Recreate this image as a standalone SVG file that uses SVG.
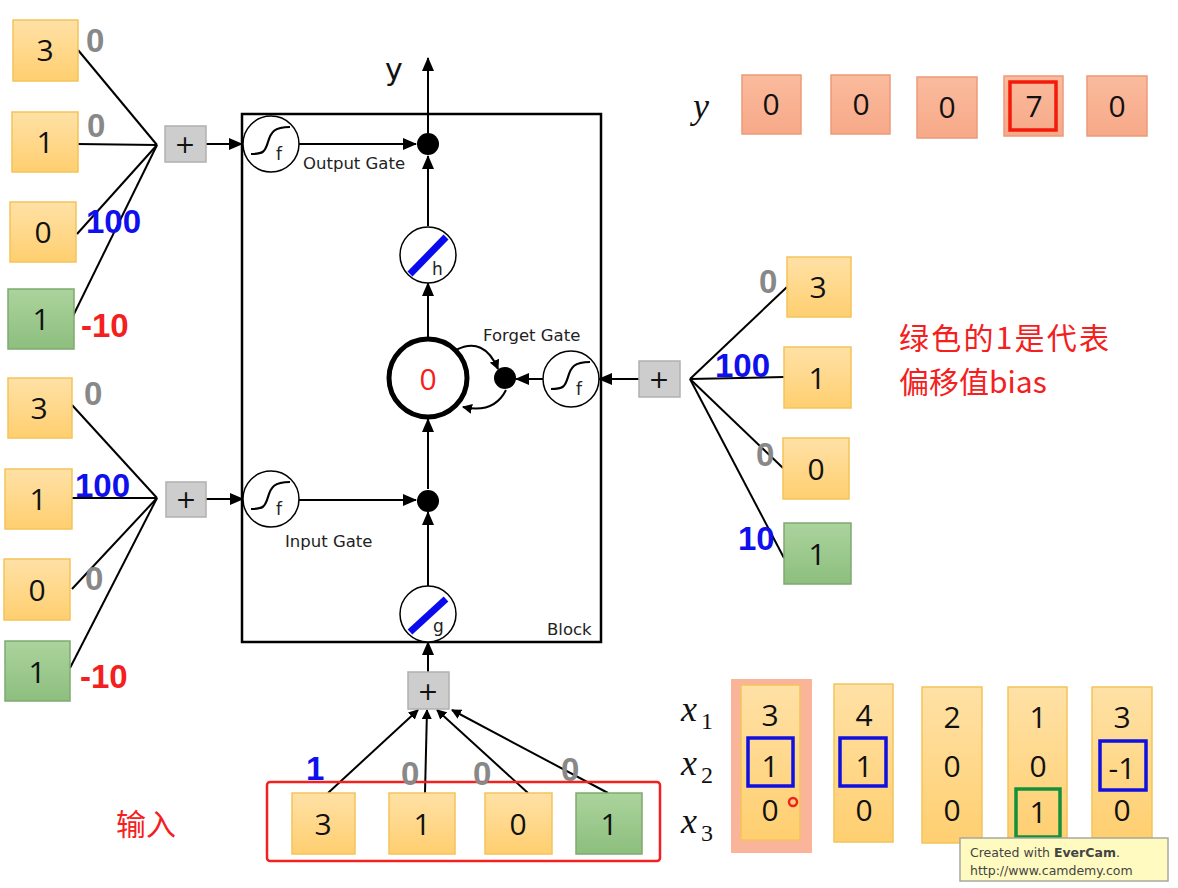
<svg xmlns="http://www.w3.org/2000/svg" width="1178" height="888" viewBox="0 0 1178 888">
<defs>
<marker id="ah" markerUnits="userSpaceOnUse" markerWidth="14" markerHeight="12" viewBox="0 0 14 12" refX="13" refY="6" orient="auto">
<path d="M0,0 L14,6 L0,12 z" fill="#000"/>
</marker>
<marker id="ahs" markerUnits="userSpaceOnUse" markerWidth="10" markerHeight="10" viewBox="0 0 10 10" refX="9" refY="5" orient="auto">
<path d="M0,0 L10,5 L0,10 z" fill="#000"/>
</marker>
<linearGradient id="gy" x1="0" y1="0" x2="0" y2="1">
<stop offset="0" stop-color="#FFE1A6"/><stop offset="1" stop-color="#FFCF70"/>
</linearGradient>
<linearGradient id="gg" x1="0" y1="0" x2="0" y2="1">
<stop offset="0" stop-color="#ABD39C"/><stop offset="1" stop-color="#8DBF7E"/>
</linearGradient>
<linearGradient id="gs" x1="0" y1="0" x2="0" y2="1">
<stop offset="0" stop-color="#FABB9D"/><stop offset="1" stop-color="#F7A988"/>
</linearGradient>
<g id="sig">
<circle r="28" fill="#fff" stroke="#000" stroke-width="1.5"/>
<path d="M-20,10 C-8,10 -6,8 -3,-2 C0,-12 3,-17 19,-17" fill="none" stroke="#000" stroke-width="2.2"/>
<text x="5" y="16" class="sub">f</text>
</g>
</defs>
<style>
.yb{fill:url(#gy);stroke:#F3C35A;stroke-width:1.5}
.gb{fill:url(#gg);stroke:#7FA971;stroke-width:1.5}
.sb{fill:url(#gs);stroke:#EC9B78;stroke-width:1.5}
.pb{fill:#CDCDCD;stroke:#B0B0B0;stroke-width:1.5}
.num{font-family:"Open Sans","Liberation Sans",sans-serif;font-size:30px;fill:#111;text-anchor:middle}
.plus{font-family:"DejaVu Sans",sans-serif;font-size:25px;fill:#111;text-anchor:middle}
.w{font-family:"Liberation Sans",Arial,sans-serif;font-size:33px;font-weight:bold}
.gray{fill:#888888}
.blue{fill:#1010EE}
.red{fill:#F42020}
.lbl{font-family:"DejaVu Sans",sans-serif;font-size:16.5px;fill:#222}
.sub{font-family:"DejaVu Sans",sans-serif;font-size:17px;fill:#222}
.ln{stroke:#000;stroke-width:2;fill:none}
.math{font-family:"Liberation Serif",serif;font-style:italic;font-size:36px;fill:#111}
.msub{font-family:"Liberation Serif",serif;font-size:24px;fill:#111}
.cjk{font-family:"Noto Sans CJK SC",sans-serif;font-size:30px;fill:#F42020}
</style>
<rect width="1178" height="888" fill="#fff"/>

<g id="block">
<rect x="242" y="114" width="359" height="528" fill="none" stroke="#000" stroke-width="2.5"/>
<text x="547" y="635" class="lbl">Block</text>
</g>

<g id="connectors">
<line x1="78" y1="50" x2="157" y2="145" class="ln"/>
<line x1="77" y1="144" x2="157" y2="145" class="ln"/>
<line x1="77" y1="234" x2="157" y2="145" class="ln"/>
<line x1="73" y1="316" x2="157" y2="145" class="ln"/>
<line x1="206" y1="144" x2="242" y2="144" class="ln" marker-end="url(#ah)"/>
<line x1="299" y1="144" x2="416" y2="144" class="ln" marker-end="url(#ah)"/>
<line x1="428" y1="133" x2="428" y2="58" class="ln" marker-end="url(#ah)"/>
<line x1="428" y1="226" x2="428" y2="156" class="ln" marker-end="url(#ah)"/>
<line x1="428" y1="337" x2="428" y2="283" class="ln" marker-end="url(#ah)"/>
<line x1="72" y1="405" x2="157" y2="498" class="ln"/>
<line x1="72" y1="498" x2="157" y2="498" class="ln"/>
<line x1="72" y1="589" x2="157" y2="498" class="ln"/>
<line x1="70" y1="668" x2="157" y2="498" class="ln"/>
<line x1="206" y1="499" x2="243" y2="499" class="ln" marker-end="url(#ah)"/>
<line x1="299" y1="500" x2="416" y2="500" class="ln" marker-end="url(#ah)"/>
<line x1="428" y1="489" x2="428" y2="419" class="ln" marker-end="url(#ah)"/>
<line x1="428" y1="586" x2="428" y2="512" class="ln" marker-end="url(#ah)"/>
<line x1="428" y1="672" x2="428" y2="642" class="ln" marker-end="url(#ah)"/>
<line x1="787" y1="287" x2="690" y2="379" class="ln"/>
<line x1="784" y1="377" x2="690" y2="379" class="ln"/>
<line x1="783" y1="468" x2="690" y2="379" class="ln"/>
<line x1="784" y1="558" x2="690" y2="379" class="ln"/>
<line x1="639" y1="379" x2="599" y2="379" class="ln" marker-end="url(#ah)"/>
<line x1="543" y1="379" x2="516" y2="379" class="ln" marker-end="url(#ah)"/>
<path d="M456,350 Q484,336 498,369" class="ln" marker-end="url(#ahs)"/>
<path d="M506,390 Q494,414 463,407" class="ln" marker-end="url(#ahs)"/>
<line x1="328" y1="793" x2="418" y2="710" class="ln" marker-end="url(#ahs)"/>
<line x1="425" y1="793" x2="427" y2="710" class="ln" marker-end="url(#ahs)"/>
<line x1="528" y1="793" x2="437" y2="710" class="ln" marker-end="url(#ahs)"/>
<line x1="608" y1="793" x2="452" y2="710" class="ln" marker-end="url(#ahs)"/>
</g>

<g id="output-gate-inputs">
<rect x="13" y="20" width="65" height="61" class="yb"/><text x="45" y="61" class="num">3</text>
<rect x="12" y="112" width="66" height="60" class="yb"/><text x="45" y="153" class="num">1</text>
<rect x="10" y="202" width="66" height="60" class="yb"/><text x="43" y="243" class="num">0</text>
<rect x="8" y="289" width="66" height="60" class="gb"/><text x="41" y="330" class="num">1</text>
<text x="86" y="52" class="w gray">0</text>
<text x="87" y="137" class="w gray">0</text>
<text x="86" y="233" class="w blue">100</text>
<text x="81" y="337" class="w red">-10</text>
</g>
<g id="output-gate-sum"><rect x="165" y="126" width="41" height="36" class="pb"/><text x="185" y="153" class="plus">+</text></g>
<g id="output-gate"><use href="#sig" x="271" y="144"/><text x="303" y="169" class="lbl">Output Gate</text></g>
<g id="output-mult"><circle cx="428" cy="144" r="11" fill="#000"/></g>
<g id="y-out"><text x="385" y="80" font-family="DejaVu Sans,sans-serif" font-size="30" fill="#111">y</text></g>
<g id="h-act">
<circle cx="428" cy="255" r="28" fill="#fff" stroke="#000" stroke-width="1.5"/>
<line x1="410" y1="274" x2="446" y2="237" stroke="#0A0AEE" stroke-width="7"/>
<text x="432" y="275" class="sub">h</text>
</g>
<g id="cell">
<circle cx="428" cy="378" r="39" fill="#fff" stroke="#000" stroke-width="5"/>
<text x="428" y="390" font-family="Open Sans,Liberation Sans,sans-serif" font-size="30" fill="#F42020" text-anchor="middle">0</text>
</g>
<g id="forget-mult"><circle cx="505" cy="378" r="11" fill="#000"/></g>
<g id="forget-gate"><use href="#sig" x="571" y="379"/><text x="483" y="341" class="lbl">Forget Gate</text></g>
<g id="forget-gate-sum"><rect x="639" y="361" width="41" height="36" class="pb"/><text x="659" y="388" class="plus">+</text></g>
<g id="forget-gate-inputs">
<rect x="787" y="257" width="64" height="60" class="yb"/><text x="818" y="298" class="num">3</text>
<rect x="784" y="347" width="67" height="61" class="yb"/><text x="817" y="389" class="num">1</text>
<rect x="783" y="438" width="66" height="61" class="yb"/><text x="816" y="480" class="num">0</text>
<rect x="784" y="523" width="67" height="61" class="gb"/><text x="817" y="565" class="num">1</text>
<text x="759" y="293" class="w gray">0</text>
<text x="715" y="377" class="w blue">100</text>
<text x="756" y="466" class="w gray">0</text>
<text x="738" y="550" class="w blue">10</text>
</g>
<g id="input-gate-inputs">
<rect x="8" y="378" width="64" height="60" class="yb"/><text x="39" y="419" class="num">3</text>
<rect x="5" y="469" width="67" height="60" class="yb"/><text x="38" y="510" class="num">1</text>
<rect x="4" y="559" width="66" height="61" class="yb"/><text x="37" y="601" class="num">0</text>
<rect x="5" y="641" width="65" height="60" class="gb"/><text x="37" y="683" class="num">1</text>
<text x="84" y="405" class="w gray">0</text>
<text x="75" y="497" class="w blue">100</text>
<text x="85" y="590" class="w gray">0</text>
<text x="80" y="688" class="w red">-10</text>
</g>
<g id="input-gate-sum"><rect x="166" y="482" width="40" height="35" class="pb"/><text x="186" y="508" class="plus">+</text></g>
<g id="input-gate"><use href="#sig" x="271" y="499"/><text x="285" y="547" class="lbl">Input Gate</text></g>
<g id="input-mult"><circle cx="428" cy="501" r="11" fill="#000"/></g>
<g id="g-act">
<circle cx="428" cy="614" r="28" fill="#fff" stroke="#000" stroke-width="1.5"/>
<line x1="410" y1="632" x2="446" y2="599" stroke="#0A0AEE" stroke-width="7"/>
<text x="433" y="632" class="sub">g</text>
</g>
<g id="block-input-sum"><rect x="408" y="672" width="41" height="37" class="pb"/><text x="428" y="700" class="plus">+</text></g>
<g id="block-inputs">
<rect x="267" y="782" width="393" height="79" rx="3" fill="none" stroke="#F42020" stroke-width="2.5"/>
<rect x="292" y="793" width="63" height="61" class="yb"/><text x="323" y="835" class="num">3</text>
<rect x="389" y="793" width="66" height="61" class="yb"/><text x="422" y="835" class="num">1</text>
<rect x="485" y="793" width="67" height="61" class="yb"/><text x="518" y="835" class="num">0</text>
<rect x="576" y="793" width="66" height="61" class="gb"/><text x="609" y="835" class="num">1</text>
<text x="306" y="780" class="w blue">1</text>
<text x="401" y="785" class="w gray">0</text>
<text x="473" y="785" class="w gray">0</text>
<text x="561" y="781" class="w gray">0</text>
</g>
<g id="input-label"><text x="116" y="835" class="cjk" font-size="29">输入</text></g>

<g id="y-row">
<text x="693" y="118" class="math">y</text>
<rect x="742" y="75" width="59" height="59" class="sb"/><text x="771" y="115" class="num">0</text>
<rect x="831" y="75" width="59" height="59" class="sb"/><text x="861" y="115" class="num">0</text>
<rect x="917" y="77" width="60" height="61" class="sb"/><text x="947" y="118" class="num">0</text>
<rect x="1004" y="76" width="59" height="60" class="sb"/><text x="1034" y="117" class="num">7</text>
<rect x="1010" y="82" width="46" height="48" fill="none" stroke="#F41A0A" stroke-width="3.5"/>
<rect x="1087" y="76" width="60" height="60" class="sb"/><text x="1117" y="117" class="num">0</text>
</g>

<g id="note"><text x="899" y="349" class="cjk" textLength="210" lengthAdjust="spacing">绿色的1是代表</text><text x="899" y="393" class="cjk">偏移值bias</text></g>

<g id="x-table">
<text x="681" y="721" class="math">x</text><text x="701" y="729" class="msub">1</text>
<text x="681" y="775" class="math">x</text><text x="701" y="783" class="msub">2</text>
<text x="681" y="833" class="math">x</text><text x="701" y="841" class="msub">3</text>
<rect x="731" y="679" width="81" height="174" fill="#F9B49A"/>
<rect x="741" y="685" width="59" height="155" class="yb"/>
<text x="770" y="726" class="num">3</text><text x="770" y="777" class="num">1</text><text x="770" y="821" class="num">0</text>
<rect x="748" y="738" width="45" height="48" fill="none" stroke="#1010E0" stroke-width="3.5"/>
<circle cx="793" cy="802" r="4" fill="none" stroke="#F42020" stroke-width="2.5"/>
<rect x="834" y="684" width="59" height="158" class="yb"/>
<text x="864" y="726" class="num">4</text><text x="864" y="777" class="num">1</text><text x="864" y="821" class="num">0</text>
<rect x="840" y="738" width="46" height="48" fill="none" stroke="#1010E0" stroke-width="3.5"/>
<rect x="922" y="687" width="60" height="156" class="yb"/>
<text x="952" y="728" class="num">2</text><text x="952" y="777" class="num">0</text><text x="952" y="821" class="num">0</text>
<rect x="1008" y="687" width="59" height="155" class="yb"/>
<text x="1038" y="728" class="num">1</text><text x="1038" y="777" class="num">0</text><text x="1038" y="823" class="num">1</text>
<rect x="1016" y="789" width="44" height="48" fill="none" stroke="#13913A" stroke-width="3.5"/>
<rect x="1092" y="687" width="60" height="153" class="yb"/>
<text x="1122" y="728" class="num">3</text><text x="1122" y="779" class="num">-1</text><text x="1122" y="821" class="num">0</text>
<rect x="1100" y="741" width="46" height="49" fill="none" stroke="#1010E0" stroke-width="3.5"/>
</g>

<g id="watermark">
<rect x="960" y="838" width="208" height="43" fill="#FFFBC0" stroke="#A8A8A0" stroke-width="1.5"/>
<text x="970" y="857" font-family="DejaVu Sans,sans-serif" font-size="12.5" fill="#444">Created with <tspan font-weight="bold">EverCam</tspan>.</text>
<text x="970" y="875" font-family="DejaVu Sans,sans-serif" font-size="12.5" fill="#444">http://www.camdemy.com</text>
</g>
</svg>
